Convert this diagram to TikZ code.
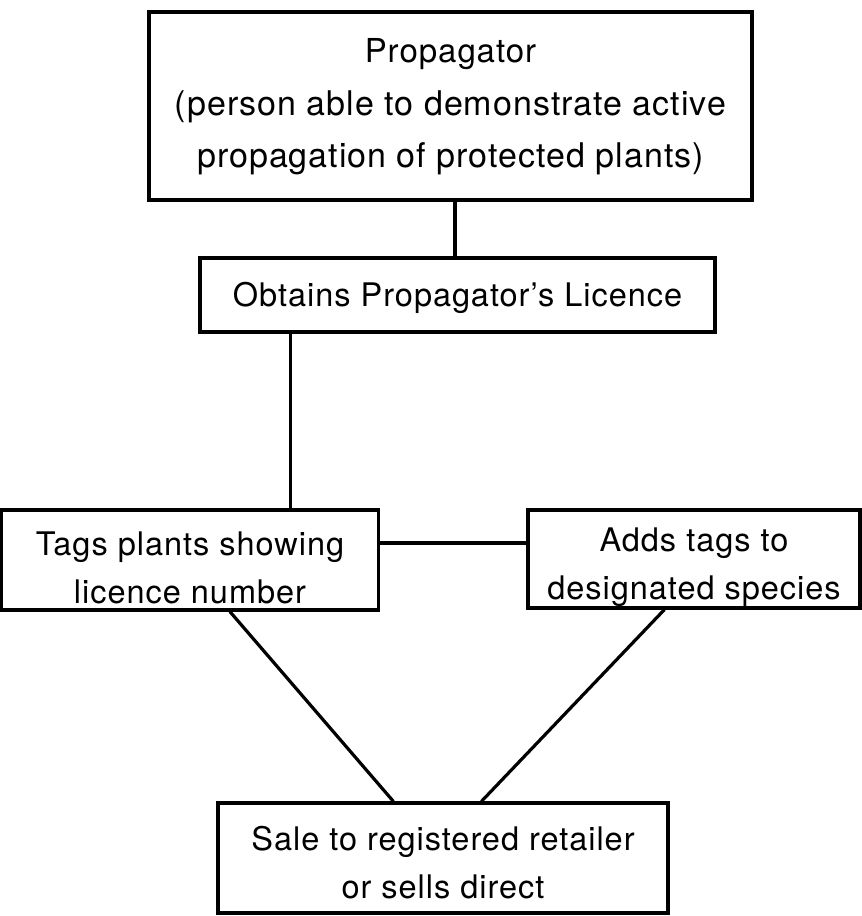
\documentclass[tikz,border=0pt]{standalone}
\usepackage{fontspec}
\setmainfont[LetterSpace=3]{TeX Gyre Heros}
\begin{document}
\begin{tikzpicture}[x=1pt,y=-1pt,
  box/.style={draw,line width=3.2pt,inner sep=0pt},
  txt/.style={inner sep=0pt,align=center,font=\fontsize{32.5}{48}\selectfont},
  link/.style={line width=3.2pt}]
\useasboundingbox (0,0) rectangle (862,916);
\node[box,minimum width=603pt,minimum height=188pt] (top) at (450.5,106) {};
\node[box,minimum width=515pt,minimum height=74pt] (obt) at (457.5,295) {};
\node[box,minimum width=377pt,minimum height=100pt] (tags) at (190,560) {};
\node[box,minimum width=332pt,minimum height=98pt] (adds) at (694,559) {};
\node[box,minimum width=450pt,minimum height=110pt] (sale) at (443,858) {};
\node[txt,font=\fontsize{34}{52.5}\selectfont] (ttop) at ([yshift=-1pt]top.center)
  {{\fontsize{33}{52.5}\selectfont Propagator}\\(person able to demonstrate active\\propagation of protected plants)};
\node[txt] (tobt) at ([yshift=-3pt]obt.center) {Obtains Propagator’s Licence};
\node[txt] (ttags) at ([yshift=-8pt]tags.center) {Tags plants showing\\licence number};
\node[txt] (tadds) at ([yshift=-8pt]adds.center) {Adds tags to\\designated species};
\node[txt] (tsale) at ([yshift=-5pt]sale.center) {Sale to registered retailer\\or sells direct};
\coordinate (c0) at ([xshift=4.5pt]top.south);
\coordinate (c1) at ([xshift=92pt]obt.south west);
\coordinate (c2) at ([yshift=17pt]tags.east);
\coordinate (d1) at ([xshift=230pt]tags.south west);
\coordinate (d2) at ([xshift=138pt]adds.south west);
\coordinate (s1) at ([xshift=177pt]sale.north west);
\coordinate (s2) at ([xshift=265pt]sale.north west);
\draw[link] (c0) -- (c0 |- obt.north);
\draw[link] (c1) -- (c1 |- tags.north);
\draw[link] (c2) -- (c2 -| adds.west);
\draw[link] (d1) -- (s1);
\draw[link] (d2) -- (s2);
\end{tikzpicture}
\end{document}
